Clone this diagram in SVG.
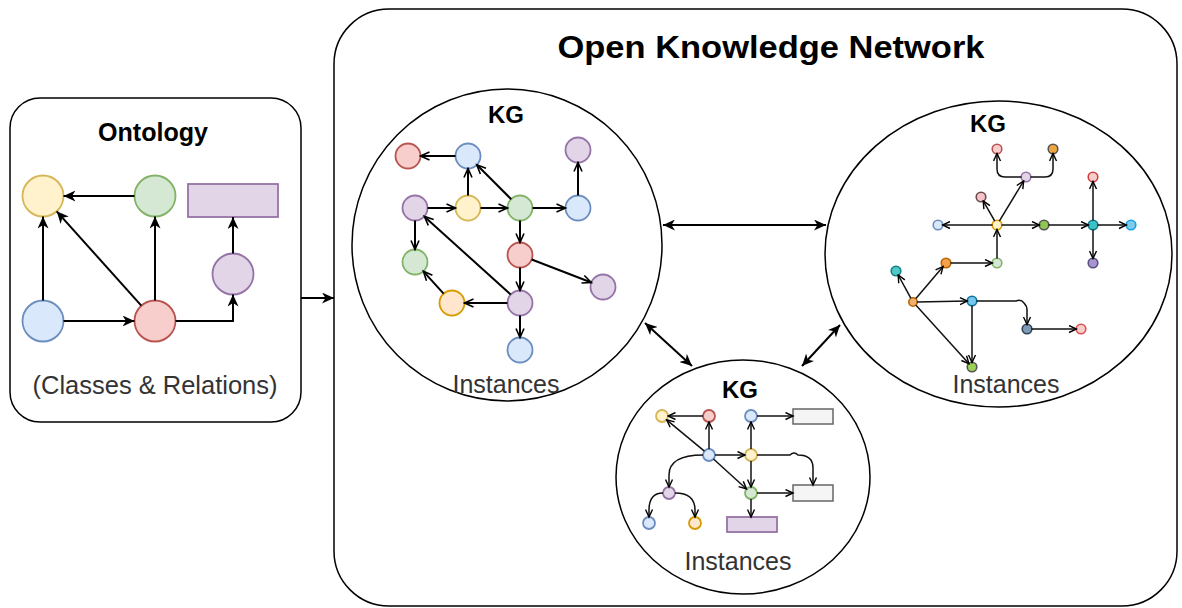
<svg xmlns="http://www.w3.org/2000/svg" width="1182" height="608" viewBox="0 0 1182 608">
<style>
.frame{fill:#fff;stroke:#000;stroke-width:1.5}
.t{font-family:"Liberation Sans",Arial,sans-serif;text-anchor:middle}
.b{font-weight:bold;fill:#000}
.g{fill:#333}
.e{fill:none;stroke:#000;stroke-width:2}
.e2{fill:none;stroke:#111;stroke-width:1.5}
.blue{fill:#dae8fc;stroke:#6c8ebf;stroke-width:1.8}
.red{fill:#f8cecc;stroke:#b85450;stroke-width:1.8}
.green{fill:#d5e8d4;stroke:#82b366;stroke-width:1.8}
.yellow{fill:#fff2cc;stroke:#d6b656;stroke-width:1.8}
.purple{fill:#e1d5e7;stroke:#9673a6;stroke-width:1.8}
.orange{fill:#ffe6cc;stroke:#d79b00;stroke-width:1.8}
.gray{fill:#f5f5f5;stroke:#666;stroke-width:1.5}
</style>
<defs>
<marker id="cls" markerUnits="userSpaceOnUse" markerWidth="13" markerHeight="11" refX="12" refY="5.5" orient="auto-start-reverse" viewBox="0 0 13 11">
<path d="M0,0 L12,5.5 L0,11 L3.5,5.5 Z" fill="#000"/>
</marker>
<marker id="opn" markerUnits="userSpaceOnUse" markerWidth="12" markerHeight="10" refX="10" refY="5" orient="auto" viewBox="0 0 12 10">
<path d="M1,1 L10,5 L1,9" fill="none" stroke="#000" stroke-width="1.6"/>
</marker>
<marker id="ops" markerUnits="userSpaceOnUse" markerWidth="10" markerHeight="9" refX="8.5" refY="4.5" orient="auto" viewBox="0 0 10 9">
<path d="M1,1 L8.5,4.5 L1,8" fill="none" stroke="#000" stroke-width="1.4"/>
</marker>
</defs>

<g id="ontology">
<rect class="frame" x="10" y="98" width="291" height="324" rx="30"/>
<text class="t b" x="153" y="141" font-size="25" textLength="110" lengthAdjust="spacingAndGlyphs">Ontology</text>
<text class="t g" x="155" y="394" font-size="25" textLength="245" lengthAdjust="spacingAndGlyphs">(Classes &amp; Relations)</text>
<circle id="o-yellow" class="yellow" cx="43" cy="196" r="20.5"/>
<circle id="o-green" class="green" cx="155" cy="196" r="20.5"/>
<rect id="o-rect" class="purple" x="188" y="184" width="90" height="33"/>
<circle id="o-purple" class="purple" cx="233" cy="274" r="20.5"/>
<circle id="o-blue" class="blue" cx="43" cy="321" r="20.5"/>
<circle id="o-red" class="red" cx="155" cy="321" r="20.5"/>
</g>

<g id="okn">
<rect class="frame" x="334" y="9" width="843" height="597" rx="55"/>
<text class="t b" x="771" y="58" font-size="32" textLength="427" lengthAdjust="spacingAndGlyphs">Open Knowledge Network</text>
</g>

<g id="kg-left">
<ellipse class="frame" cx="507" cy="245" rx="155" ry="156"/>
<text class="t b" x="506" y="123" font-size="24">KG</text>
<text class="t g" x="506" y="393" font-size="25" textLength="107" lengthAdjust="spacingAndGlyphs">Instances</text>
<circle class="red" cx="408" cy="156" r="12.5"/>
<circle class="blue" cx="468" cy="156" r="12.5"/>
<circle class="purple" cx="578" cy="150" r="12.5"/>
<circle class="purple" cx="415" cy="208" r="12.5"/>
<circle class="yellow" cx="468" cy="208" r="12.5"/>
<circle class="green" cx="520" cy="208" r="12.5"/>
<circle class="blue" cx="578" cy="208" r="12.5"/>
<circle class="green" cx="415" cy="262" r="12.5"/>
<circle class="red" cx="520" cy="255" r="12.5"/>
<circle class="purple" cx="603" cy="287" r="12.5"/>
<circle class="orange" cx="452" cy="303" r="12.5"/>
<circle class="purple" cx="520" cy="303" r="12.5"/>
<circle class="blue" cx="520" cy="350" r="12.5"/>
</g>

<g id="kg-right">
<ellipse class="frame" cx="998.5" cy="254" rx="173.5" ry="153"/>
<text class="t b" x="988" y="132" font-size="24">KG</text>
<text class="t g" x="1006" y="393" font-size="25" textLength="107" lengthAdjust="spacingAndGlyphs">Instances</text>
<g stroke-width="1.6">
<circle cx="997" cy="149" r="4.8" fill="#f8cecc" stroke="#b85450"/>
<circle cx="1053" cy="149" r="4.8" fill="#f0a540" stroke="#555"/>
<circle cx="1026" cy="177" r="4.8" fill="#e1d5e7" stroke="#9673a6"/>
<circle cx="981" cy="197" r="4.8" fill="#f6c3cc" stroke="#6b4b4b"/>
<circle cx="938" cy="225" r="4.8" fill="#dae8fc" stroke="#6c8ebf"/>
<circle cx="997" cy="225" r="4.8" fill="#fff2cc" stroke="#d79b00"/>
<circle cx="1044" cy="225" r="4.8" fill="#8fc750" stroke="#555"/>
<circle cx="1093" cy="225" r="4.8" fill="#3ec1c6" stroke="#0e8088"/>
<circle cx="1131" cy="225" r="4.8" fill="#7ecbee" stroke="#1ba1e2"/>
<circle cx="1093" cy="177" r="4.8" fill="#f8cecc" stroke="#d04040"/>
<circle cx="1093" cy="263" r="4.8" fill="#a994cf" stroke="#56517e"/>
<circle cx="997" cy="263" r="4.8" fill="#d5e8d4" stroke="#82b366"/>
<circle cx="946" cy="263" r="4.8" fill="#f5a04a" stroke="#b46504"/>
<circle cx="896" cy="271" r="4.8" fill="#52c7c7" stroke="#0e8088"/>
<circle cx="913" cy="302" r="4.2" fill="#f0b070" stroke="#b46504"/>
<circle cx="972" cy="301" r="4.8" fill="#74c7ee" stroke="#10739e"/>
<circle cx="1027" cy="329" r="4.8" fill="#7f9bb6" stroke="#314354"/>
<circle cx="1081" cy="329" r="4.8" fill="#f8cecc" stroke="#e05050"/>
<circle cx="972" cy="367" r="4.8" fill="#9ad155" stroke="#555"/>
</g>
</g>

<g id="kg-bottom">
<ellipse class="frame" cx="743" cy="477" rx="127" ry="117"/>
<text class="t b" x="740" y="398" font-size="24">KG</text>
<text class="t g" x="738" y="570" font-size="25" textLength="107" lengthAdjust="spacingAndGlyphs">Instances</text>
<circle class="yellow" cx="662" cy="416" r="6"/>
<circle class="red" cx="709" cy="416" r="6"/>
<circle class="blue" cx="751" cy="416" r="6"/>
<rect class="gray" x="793" y="409" width="40" height="15"/>
<circle class="blue" cx="709" cy="455" r="6"/>
<circle class="yellow" cx="751" cy="455" r="6"/>
<circle class="purple" cx="669" cy="493" r="6"/>
<circle class="green" cx="751" cy="493" r="6"/>
<rect class="gray" x="793" y="485" width="40" height="16"/>
<circle class="blue" cx="649" cy="523" r="6"/>
<circle class="orange" cx="695" cy="523" r="6"/>
<rect class="purple" x="727" y="517" width="50" height="15"/>
</g>

<g id="connectors">
<g class="e" marker-end="url(#cls)">
<path d="M134.5,196 L63.5,196"/>
<path d="M43,300.5 L43,216.5"/>
<path d="M141.3,305.7 L56.7,211.3"/>
<path d="M155,300.5 L155,216.5"/>
<path d="M63.5,321 L134.5,321"/>
<path d="M175.5,321 L233,321 L233,294.5"/>
<path d="M233,253.5 L233,217"/>
<path d="M301,298 L334,298"/>
</g>
<g class="e" stroke-width="1.6" marker-start="url(#cls)" marker-end="url(#cls)">
<path d="M663,225 L826,225"/>
<path d="M645,323 L692,366"/>
<path d="M840,325 L802,366"/>
</g>
<g class="e" marker-end="url(#opn)">
<path d="M455.5,156 L420.5,156"/>
<path d="M468,195.5 L468,168.5"/>
<path d="M511.2,199.2 L476.8,164.8"/>
<path d="M427.5,208 L455.5,208"/>
<path d="M480.5,208 L507.5,208"/>
<path d="M532.5,208 L565.5,208"/>
<path d="M578,195.5 L578,162.5"/>
<path d="M415,220.5 L415,249.5"/>
<path d="M520,220.5 L520,242.5"/>
<path d="M531.7,259.5 L591.3,282.5"/>
<path d="M520,267.5 L520,290.5"/>
<path d="M510.7,294.6 L424.3,216.4"/>
<path d="M507.5,303 L464.5,303"/>
<path d="M443.6,293.7 L423.4,271.3"/>
<path d="M520,315.5 L520,337.5"/>
</g>
<g class="e2" marker-end="url(#ops)">
<path d="M1021.5,177 L1005,177 Q997,177 997,169 L997,153.5"/>
<path d="M1030.5,177 L1045,177 Q1053,177 1053,169 L1053,153.5"/>
<path d="M999.3,221.1 L1023.7,180.9"/>
<path d="M994.8,221.1 L983.2,200.9"/>
<path d="M992.5,225 L942.5,225"/>
<path d="M1001.5,225 L1039.5,225"/>
<path d="M1048.5,225 L1088.5,225"/>
<path d="M1097.5,225 L1126.5,225"/>
<path d="M1093,220.5 L1093,181.5"/>
<path d="M1093,229.5 L1093,258.5"/>
<path d="M997,258.5 L997,229.5"/>
<path d="M950.5,263 L992.5,263"/>
<path d="M915.9,298.6 L943.1,266.4"/>
<path d="M910.8,298.1 L898.2,275"/>
<path d="M917,302 L967.5,301"/>
<path d="M916,305.3 L969,363.7"/>
<path d="M972,305.5 L972,362.5"/>
<path d="M976.5,301 L1016,301 Q1021,299 1024,303 Q1027,306 1027,310 L1027,324.5"/>
<path d="M1031.5,329 L1076.5,329"/>
</g>
<g class="e2" marker-end="url(#ops)">
<path d="M703,416 L668,416"/>
<path d="M709,449 L709,422"/>
<path d="M704.4,451.2 L666.6,419.8"/>
<path d="M713.5,459 L746.5,489"/>
<path d="M715,455 L745,455"/>
<path d="M751,449 L751,422"/>
<path d="M757,416 L793,416"/>
<path d="M751,461 L751,487"/>
<path d="M757,455 L790,455 Q794,451 798,455 Q813,455 813,468 L813,485"/>
<path d="M757,493 L793,493"/>
<path d="M751,499 L751,517"/>
<path d="M703,455 C680,455 669,462 669,475 L669,487"/>
<path d="M663,493 C652,493 649,500 649,510 L649,517"/>
<path d="M675,493 C690,493 695,500 695,510 L695,517"/>
</g>
</g>
</svg>
